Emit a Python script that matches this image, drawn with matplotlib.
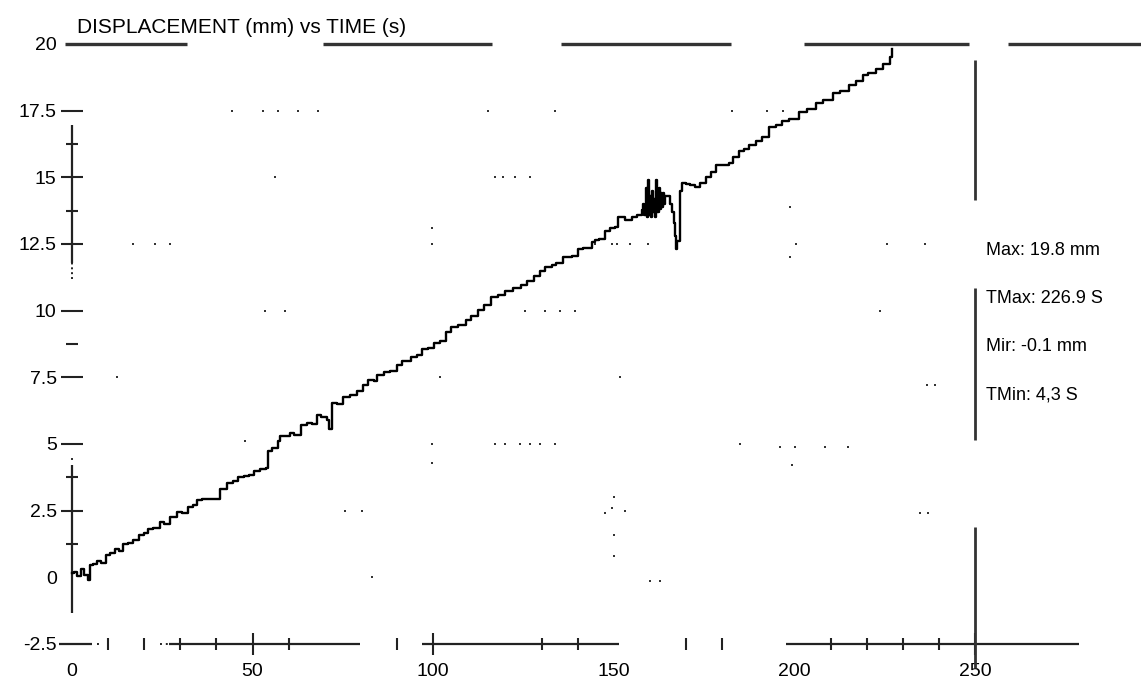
import matplotlib
matplotlib.use("Agg")
import matplotlib.pyplot as plt

# Recorded displacement trace (time in s, displacement in mm)
time_s = [0, 0.5, 1.5, 2.5, 3.2, 4.3, 5.0, 5.8, 7, 8, 9.5, 10.5, 12, 13, 14, 15.5,
          17, 18.5, 19.8, 21, 22.5, 24.4, 25.5, 27, 29, 30.5, 32, 33.5, 34.6, 36,
          38, 39.7, 41, 43, 44.5, 46, 47.5, 49, 50.3, 52, 53.6, 54.4, 55.5, 57,
          57.7, 59, 60.4, 61.5, 63.3, 65.2, 66.5, 67.9, 69, 70.7, 71.2, 72, 73.5,
          75, 77, 79, 80.5, 81.9, 83.5, 84.5, 86.4, 88, 90, 91.5, 93.9, 95.5, 97,
          98.5, 100.3, 102, 103.5, 105, 107, 109, 110.5, 112.4, 114, 116, 118, 120,
          122, 124.4, 126, 128, 129.5, 130.9, 132.8, 134, 136, 137.4, 138.3, 140,
          141.5, 143.9, 144.7, 146, 147.5, 149, 150.3, 151.3, 153, 155, 156.5,
          157.8, 158.2, 158.5, 158.8, 159.1, 159.4, 159.7, 160.0, 160.3, 160.6,
          160.9, 161.2, 161.5, 161.8, 162.1, 162.4, 162.7, 163.0, 163.3, 163.6,
          164.0, 164.2, 164.7, 165.5, 166.0, 166.6, 167.0, 167.2, 167.4, 168.2,
          168.3, 168.9, 170, 171, 172.6, 174, 175.4, 177, 178.2, 180, 181.8, 183,
          184.6, 186, 187.5, 189.3, 191, 193, 195, 196.7, 198.5, 201.3, 203.5,
          205.9, 208, 210.6, 212.5, 215.2, 217, 218.9, 220.5, 222.6, 224.5, 226.4,
          226.9]
disp_mm = [0.15, 0.2, 0.05, 0.3, 0.1, -0.1, 0.45, 0.5, 0.6, 0.55, 0.85, 0.9, 1.05,
           1.0, 1.25, 1.3, 1.4, 1.6, 1.65, 1.8, 1.85, 2.07, 2.0, 2.25, 2.45, 2.4,
           2.65, 2.7, 2.9, 2.92, 2.93, 2.94, 3.3, 3.54, 3.6, 3.75, 3.8, 3.85, 4.0,
           4.05, 4.1, 4.75, 4.85, 5.1, 5.3, 5.3, 5.4, 5.35, 5.7, 5.8, 5.75, 6.1,
           6.0, 5.9, 5.55, 6.54, 6.5, 6.75, 6.85, 7.0, 7.2, 7.4, 7.35, 7.6, 7.7,
           7.75, 7.95, 8.1, 8.27, 8.35, 8.55, 8.6, 8.79, 8.85, 9.2, 9.4, 9.45, 9.65,
           9.8, 10.02, 10.2, 10.5, 10.6, 10.75, 10.85, 10.96, 11.1, 11.3, 11.5,
           11.65, 11.7, 11.8, 12.0, 12.0, 12.05, 12.3, 12.35, 12.59, 12.65, 12.7,
           12.97, 13.1, 13.15, 13.52, 13.4, 13.5, 13.6, 13.77, 14.0, 13.6, 14.6,
           13.5, 14.9, 13.6, 14.3, 13.5, 14.5, 13.7, 14.2, 13.5, 14.9, 13.7, 14.6,
           13.8, 14.4, 13.9, 14.4, 14.0, 14.3, 14.3, 14.0, 13.7, 13.3, 12.8, 12.3,
           12.6, 14.0, 14.5, 14.8, 14.75, 14.7, 14.65, 14.8, 15.03, 15.2, 15.46,
           15.45, 15.52, 15.75, 15.97, 16.05, 16.2, 16.35, 16.5, 16.9, 16.95, 17.1,
           17.2, 17.45, 17.55, 17.77, 17.9, 18.15, 18.25, 18.46, 18.6, 18.84, 18.9,
           19.08, 19.25, 19.5, 19.8]

x_ticks = [0, 50, 100, 150, 200, 250]
x_minor = [10, 20, 30, 40, 60, 90, 130, 140, 170, 180, 210, 220, 230, 240]
y_ticks = [-2.5, 0, 2.5, 5, 7.5, 10, 12.5, 15, 17.5, 20]
y_labels = ["-2.5", "0", "2.5", "5", "7.5", "10", "12.5", "15", "17.5", "20"]
y_minor = [1.25, 3.75, 8.75, 13.75, 16.25]

title = "DISPLACEMENT (mm) vs TIME (s)"
stats = ["Max: 19.8 mm", "TMax: 226.9 S", "Mir: -0.1 mm", "TMin: 4,3 S"]

# surviving pieces of the frame lines (start, end)
top_pieces = [(-1.9, 31.8), (69.5, 116.3), (135.4, 182.4), (202.7, 248.3), (259.1, 296)]
bottom_pieces = [(-3.6, 5.5), (26.8, 79.7), (97.0, 151.5), (197.6, 278.7)]
bottom_dotted = [(7.0, 8.4), (24.3, 26.8)]
left_pieces = [(11.8, 16.95), (-1.35, 4.2)]
left_dotted = [(11.2, 11.8)]
right_pieces = [(14.15, 19.4), (5.15, 10.85), (-3.4, 1.9)]

# leftover grid dots
dot_x = [44.3, 52.9, 57.1, 62.6, 68.1, 115.2, 133.7, 182.7, 192.4, 196.8,
         56.2, 117.1, 119.3, 122.6, 126.8,
         16.9, 23.0, 27.1, 99.7, 99.7, 144.8, 149.5, 150.9, 154.5, 159.5, 198.8,
         198.8, 200.4, 225.6, 236.2,
         53.4, 59.0, 125.4, 131.0, 135.1, 139.3, 223.7,
         12.5, 101.9, 151.7, 236.7, 238.9,
         47.9, 99.7, 99.7, 117.1, 119.9, 124.0, 126.8, 129.6, 133.7, 184.9,
         196.0, 199.3, 200.2, 208.5, 214.8,
         75.6, 80.3, 147.6, 149.5, 153.1, 234.8, 237.0,
         150.0, 150.0, 150.0, 83.0, 160.0, 162.8, 0.0]
dot_y = [17.5, 17.5, 17.5, 17.5, 17.5, 17.5, 17.5, 17.5, 17.5, 17.5,
         15, 15, 15, 15, 15,
         12.5, 12.5, 12.5, 13.1, 12.5, 12.5, 12.5, 12.5, 12.5, 12.5, 13.9,
         12.0, 12.5, 12.5, 12.5,
         10, 10, 10, 10, 10, 10, 10,
         7.5, 7.5, 7.5, 7.2, 7.2,
         5.1, 5.0, 4.3, 5.0, 5.0, 5.0, 5.0, 5.0, 5.0, 5.0,
         4.9, 4.2, 4.9, 4.9, 4.9,
         2.5, 2.5, 2.4, 2.6, 2.5, 2.4, 2.4,
         3.0, 1.6, 0.8, 0.0, -0.15, -0.15, 4.45]

plt.rcParams['font.family'] = ['Liberation Sans', 'DejaVu Sans']

fig = plt.figure(figsize=(11.41, 6.92), dpi=100)
ax = fig.add_axes([0, 0, 1, 1])
ax.set_xlim(-19.93, 295.96)
ax.set_ylim(-4.3, 21.65)

for s in ['top', 'right']:
    ax.spines[s].set_visible(False)
ax.spines['left'].set_position(('data', 0))
ax.spines['bottom'].set_position(('data', -2.5))
ax.spines['left'].set_visible(False)
ax.spines['bottom'].set_visible(False)

frame = dict(color='#222222', lw=1.6, solid_capstyle='butt')
for a, b in top_pieces:
    ax.plot([a, b], [20, 20], color='#333333', lw=2.4, solid_capstyle='butt')
for a, b in bottom_pieces:
    ax.plot([a, b], [-2.5, -2.5], **frame)
for a, b in bottom_dotted:
    ax.plot([a, b], [-2.5, -2.5], color='#222222', lw=1.4, ls=(0, (1, 2)))
for a, b in left_pieces:
    ax.plot([0, 0], [a, b], **frame)
for a, b in left_dotted:
    ax.plot([0, 0], [a, b], color='#222222', lw=1.4, ls=(0, (1, 1.5)))
for a, b in right_pieces:
    ax.plot([250, 250], [a, b], color='#333333', lw=2.0, solid_capstyle='butt')

ax.scatter(dot_x, dot_y, s=2.5, marker='s', color='#333333', linewidths=0)

# displacement trace, drawn as the logger's stepped samples
ax.plot(time_s, disp_mm, color='black', lw=1.7, drawstyle='steps-post')

ax.set_xticks(x_ticks)
ax.set_xticks(x_minor, minor=True)
ax.set_yticks(y_ticks, y_labels)
ax.set_yticks(y_minor, minor=True)
ax.tick_params(which='major', direction='inout', length=16, width=1.5,
               color='#222222', labelsize=14, pad=3)
ax.tick_params(which='minor', direction='inout', length=8, width=1.5, color='#222222')
ax.tick_params(axis='x', which='major', pad=6)

for t, v in zip(ax.yaxis.get_major_ticks(), y_ticks):
    if v in (-2.5, 0, 20):
        t.tick1line.set_visible(False)
for t, v in zip(ax.xaxis.get_major_ticks(), x_ticks):
    if v in (0, 150, 200):
        t.tick1line.set_visible(False)

fig.text(77 / 1141, 1 - 33 / 692, title, fontsize=15, va='baseline', ha='left')
for i, line in enumerate(stats):
    fig.text(986 / 1141, 1 - (250 + 48.5 * i) / 692, line, fontsize=13,
             va='center', ha='left')

fig.savefig("out.png", dpi=100)
